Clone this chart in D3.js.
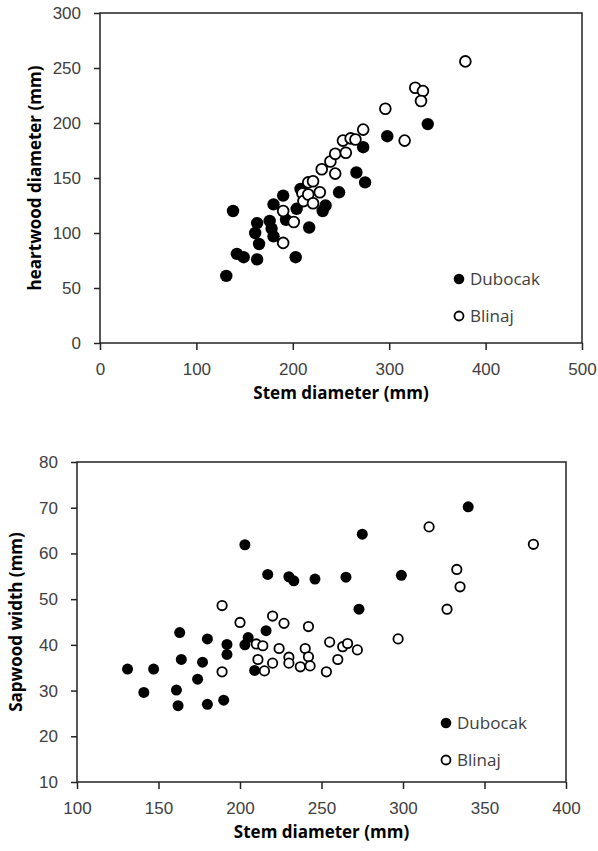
<!DOCTYPE html>
<html>
<head>
  <meta charset="utf-8">
  <script src="https://d3js.org/d3.v7.min.js"></script>
  <style>
    body { margin: 0; background: #fff; }
    svg { font-family: "Open Sans", sans-serif; }
    .tick text { fill: #404040; font-size: 17px; }
    .title { font-weight: bold; font-size: 17px; fill: #000; }
    .legend text { font-size: 17px; fill: #404040; }
  </style>
</head>
<body>
<script>
  // heartwood diameter vs stem diameter (mm)
  var heartDubocak = [
    [131, 61], [138, 120], [142, 81], [149, 78], [163, 76], [165, 90],
    [161, 100], [163, 109], [176, 111], [178, 104], [180, 97], [180, 126],
    [190, 134], [193, 112], [203, 78], [204, 122], [208, 140], [217, 105],
    [231, 120], [234, 125], [248, 137], [266, 155], [275, 146], [273, 178],
    [298, 188], [340, 199]
  ];
  var heartBlinaj = [
    [190, 91], [190, 120], [201, 110], [210, 136], [211, 129], [216, 135],
    [216, 146], [221, 127], [221, 147], [228, 137], [230, 158], [239, 165],
    [244, 154], [244, 172], [252, 184], [255, 173], [260, 186], [265, 185],
    [273, 194], [296, 213], [316, 184], [327, 232], [335, 229], [333, 220],
    [379, 256]
  ];

  // sapwood width vs stem diameter (mm)
  var sapDubocak = [
    [131, 34.7], [141, 29.6], [147, 34.7], [161, 30.1], [162, 26.7], [163, 42.7],
    [164, 36.8], [174, 32.5], [177, 36.2], [180, 41.3], [180, 27.0], [190, 27.9],
    [192, 40.1], [192, 37.9], [203, 61.9], [203, 40.0], [205, 41.6], [209, 34.4],
    [216, 43.1], [217, 55.4], [230, 54.9], [233, 54.0], [246, 54.4], [265, 54.8],
    [273, 47.8], [275, 64.2], [299, 55.2], [340, 70.2]
  ];
  var sapBlinaj = [
    [189, 48.6], [189, 34.1], [200, 44.9], [210, 40.2], [211, 36.8], [214, 39.8],
    [215, 34.3], [220, 46.3], [220, 36.0], [224, 39.2], [227, 44.7], [230, 37.3],
    [230, 36.0], [237, 35.2], [240, 39.2], [242, 44.0], [242, 37.4], [243, 35.4],
    [253, 34.1], [255, 40.6], [260, 36.8], [263, 39.6], [266, 40.3], [272, 38.9],
    [297, 41.3], [316, 65.8], [327, 47.8], [333, 56.5], [335, 52.7], [380, 62.0]
  ];

  var heartXTicks = [0, 100, 200, 300, 400, 500];
  var heartYTicks = [0, 50, 100, 150, 200, 250, 300];
  var sapXTicks = [100, 150, 200, 250, 300, 350, 400];
  var sapYTicks = [10, 20, 30, 40, 50, 60, 70, 80];
  var seriesNames = ["Dubocak", "Blinaj"];

  var svg = d3.select("body").append("svg")
      .attr("width", 598)
      .attr("height", 851);

  function drawChart(opt) {
    var g = svg.append("g");
    var x = d3.scaleLinear().domain(opt.xDomain).range([opt.left, opt.right]);
    var y = d3.scaleLinear().domain(opt.yDomain).range([opt.bottom, opt.top]);

    var xAxis = g.append("g")
        .attr("transform", "translate(0," + opt.bottom + ")")
        .call(d3.axisBottom(x).tickValues(opt.xTicks).tickSizeInner(7).tickSizeOuter(0).tickPadding(13));
    var yAxis = g.append("g")
        .attr("transform", "translate(" + opt.left + ",0)")
        .call(d3.axisLeft(y).tickValues(opt.yTicks).tickSizeInner(6).tickSizeOuter(0).tickPadding(13));
    [xAxis, yAxis].forEach(function(a) {
      a.select(".domain").remove();
      a.selectAll(".tick line").attr("stroke", "#222").attr("stroke-width", 1.5);
    });

    // plot frame
    g.append("rect")
        .attr("x", opt.left).attr("y", opt.top)
        .attr("width", opt.right - opt.left)
        .attr("height", opt.bottom - opt.top)
        .attr("fill", "none")
        .attr("stroke", "#222")
        .attr("stroke-width", 1.5);

    g.append("text").attr("class", "title")
        .attr("x", (opt.left + opt.right) / 2)
        .attr("y", opt.bottom + 56)
        .attr("text-anchor", "middle")
        .text(opt.xTitle);
    g.append("text").attr("class", "title")
        .attr("transform", "translate(" + opt.yTitleX + "," + (opt.top + opt.bottom) / 2 + ") rotate(-90)")
        .attr("text-anchor", "middle")
        .text(opt.yTitle);

    g.append("g").selectAll("circle")
        .data(opt.dub).enter().append("circle")
        .attr("cx", function(d) { return x(d[0]); })
        .attr("cy", function(d) { return y(d[1]); })
        .attr("r", opt.r)
        .attr("fill", "#000");
    g.append("g").selectAll("circle")
        .data(opt.bli).enter().append("circle")
        .attr("cx", function(d) { return x(d[0]); })
        .attr("cy", function(d) { return y(d[1]); })
        .attr("r", opt.r - 0.8)
        .attr("fill", "#fff")
        .attr("stroke", "#000")
        .attr("stroke-width", 1.8);

    var leg = g.append("g").attr("class", "legend");
    seriesNames.forEach(function(name, i) {
      var ly = opt.legY + i * 37;
      leg.append("circle")
          .attr("cx", opt.legX).attr("cy", ly)
          .attr("r", i === 0 ? 5.3 : 4.5)
          .attr("fill", i === 0 ? "#000" : "#fff")
          .attr("stroke", "#000")
          .attr("stroke-width", i === 0 ? 0 : 1.8);
      leg.append("text")
          .attr("x", opt.legX + 11).attr("y", ly + 6)
          .text(name);
    });
  }

  drawChart({
    dub: heartDubocak, bli: heartBlinaj,
    xDomain: [0, 500], yDomain: [0, 300],
    xTicks: heartXTicks, yTicks: heartYTicks,
    left: 100, right: 582, top: 13, bottom: 343,
    xTitle: "Stem diameter (mm)", yTitle: "heartwood diameter (mm)",
    yTitleX: 41, r: 6.2, legX: 459, legY: 279
  });

  drawChart({
    dub: sapDubocak, bli: sapBlinaj,
    xDomain: [100, 400], yDomain: [10, 80],
    xTicks: sapXTicks, yTicks: sapYTicks,
    left: 77, right: 566, top: 462, bottom: 782,
    xTitle: "Stem diameter (mm)", yTitle: "Sapwood width  (mm)",
    yTitleX: 22, r: 5.5, legX: 446, legY: 723
  });
</script>
</body>
</html>
